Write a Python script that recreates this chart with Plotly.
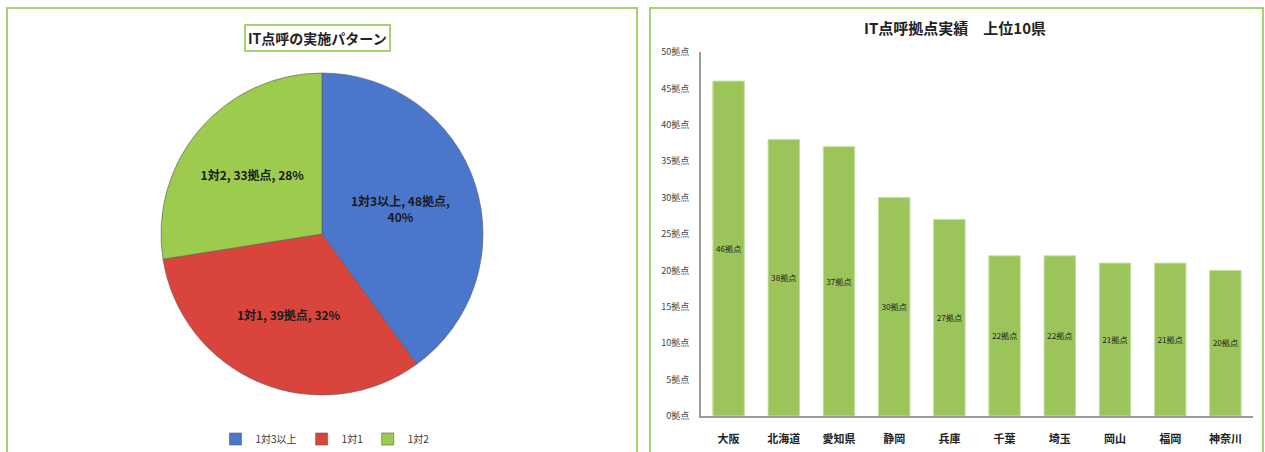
import plotly.graph_objects as go

W, H = 1265, 452

# ---- data ----
pie_labels = ["1対3以上", "1対1", "1対2"]
pie_values = [48, 39, 33]
pie_pct = ["40%", "32%", "28%"]

prefs = ["大阪", "北海道", "愛知県", "静岡", "兵庫", "千葉", "埼玉", "岡山", "福岡", "神奈川"]
counts = [46, 38, 37, 30, 27, 22, 22, 21, 21, 20]
ytick_vals = [0, 5, 10, 15, 20, 25, 30, 35, 40, 45, 50]
ytick_text = [f"{v}拠点" for v in ytick_vals]

FONT = "Noto Sans CJK JP"
GREEN_BORDER = "#a6d16f"

def px(x):
    return x / W

def py(y):
    return 1 - y / H

pie_text = []
for lab, v, p in zip(pie_labels, pie_values, pie_pct):
    if lab == "1対3以上":
        pie_text.append(f"<b>{lab}, {v}拠点,<br>{p}</b>")
    else:
        pie_text.append(f"<b>{lab}, {v}拠点, {p}</b>")

fig = go.Figure()

fig.add_trace(go.Pie(
    labels=pie_labels,
    values=pie_values,
    text=pie_text,
    textinfo="text",
    textposition="inside",
    insidetextorientation="horizontal",
    textfont=dict(family=FONT, size=12, color="#1a1a1a"),
    sort=False,
    direction="clockwise",
    rotation=0,
    marker=dict(colors=["#4a77cc", "#d9453d", "#9ccb4e"],
                line=dict(color="#5a5a5a", width=0.6)),
    domain=dict(x=[px(161), px(483)], y=[py(395), py(73)]),
    hoverinfo="label+value+percent",
    automargin=False,
))

fig.add_trace(go.Bar(
    x=prefs,
    y=counts,
    text=[f"{c}拠点" for c in counts],
    textposition="inside",
    insidetextanchor="middle",
    textangle=0,
    textfont=dict(family=FONT, size=9, color="#222222"),
    marker=dict(color="#9bc45a", line=dict(color="#c5e0a0", width=1)),
    xaxis="x2", yaxis="y2",
    showlegend=False,
    cliponaxis=False,
))

fig.update_layout(
    width=W, height=H,
    autosize=False,
    margin=dict(l=0, r=0, t=0, b=0, pad=0, autoexpand=False),
    paper_bgcolor="white",
    plot_bgcolor="white",
    font=dict(family=FONT),
    bargap=0.43,
    uniformtext=dict(minsize=8, mode="show"),
    legend=dict(
        orientation="h",
        x=px(325), y=py(439),
        xanchor="center", yanchor="middle",
        font=dict(family=FONT, size=10, color="#333333"),
        itemwidth=30,
        tracegroupgap=0,
    ),
    xaxis2=dict(
        domain=[px(701), px(1253)],
        anchor="y2",
        automargin=False,
        showgrid=False,
        showline=True, linecolor="#9a9a9a", linewidth=2,
        ticks="",
        ticklabelstandoff=12,
        tickfont=dict(family=FONT, size=11, color="#222222", weight="bold"),
        fixedrange=True,
    ),
    yaxis2=dict(
        domain=[py(416), py(52)],
        anchor="x2",
        automargin=False,
        range=[0, 50],
        tickvals=ytick_vals,
        ticktext=ytick_text,
        showgrid=False,
        showline=True, linecolor="#9a9a9a", linewidth=2,
        ticks="",
        ticklabelstandoff=8,
        tickfont=dict(family=FONT, size=9, color="#444444"),
        zeroline=False,
        fixedrange=True,
    ),
    shapes=[
        dict(type="rect", xref="paper", yref="paper",
             x0=px(7), x1=px(637), y0=-0.05, y1=py(8),
             line=dict(color=GREEN_BORDER, width=2)),
        dict(type="rect", xref="paper", yref="paper",
             x0=px(650), x1=px(1263), y0=-0.05, y1=py(8),
             line=dict(color=GREEN_BORDER, width=2)),
    ],
    annotations=[
        dict(text="<b>IT点呼の実施パターン</b>", xref="paper", yref="paper",
             x=px(317), y=py(38), xanchor="center", yanchor="middle",
             showarrow=False,
             font=dict(family=FONT, size=14, color="#222222"),
             bordercolor=GREEN_BORDER, borderwidth=2, borderpad=2,
             bgcolor="white"),
        dict(text="<b>IT点呼拠点実績　上位10県</b>", xref="paper", yref="paper",
             x=px(955), y=py(28), xanchor="center", yanchor="middle",
             showarrow=False,
             font=dict(family=FONT, size=15, color="#222222")),
    ],
)

fig.write_html(
    "out.html",
    config={"displayModeBar": False, "responsive": False},
    post_script="document.body.style.margin='0';document.body.style.overflow='hidden';",
)
